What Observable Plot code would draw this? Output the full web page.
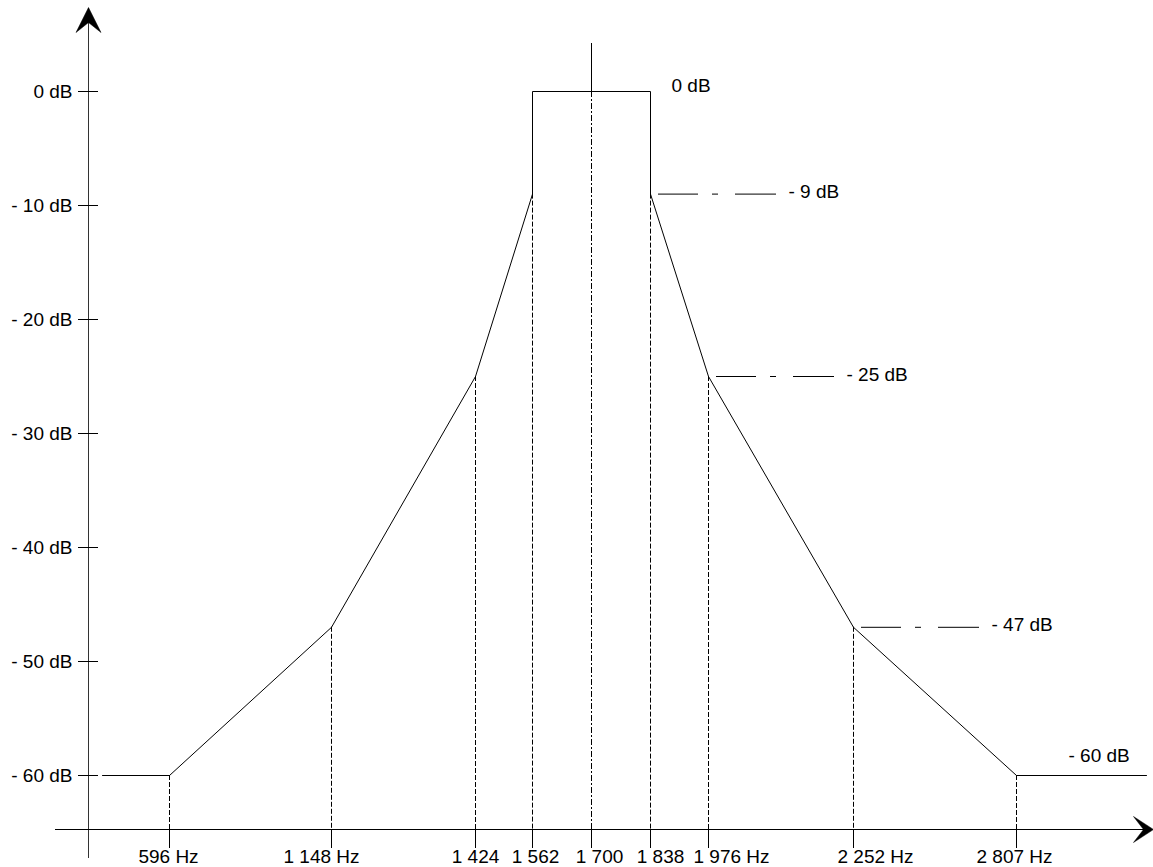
<!DOCTYPE html>
<html>
<head>
<meta charset="utf-8">
<script src="https://cdn.jsdelivr.net/npm/d3@7"></script>
<script src="https://cdn.jsdelivr.net/npm/@observablehq/plot@0.6"></script>
<style>
  html, body { margin: 0; padding: 0; background: #fff; }
  svg { display: block; }
</style>
</head>
<body>
<div id="chart"></div>
<script>
// ---------- DATA ----------
const freqs      = [596, 1148, 1424, 1562, 1700, 1838, 1976, 2252, 2807];
const freqLabels = ["596 Hz", "1 148 Hz", "1 424", "1 562", "1 700", "1 838", "1 976 Hz", "2 252 Hz", "2 807 Hz"];
const markerDb   = [-60, -47, -25, -9, 0, -9, -25, -47, -60];
const maskFreq   = [596, 1148, 1424, 1562, 1562, 1838, 1838, 1976, 2252, 2807];
const maskDb     = [-60, -47, -25, -9, 0, 0, -9, -25, -47, -60];
const dbTicks    = [0, -10, -20, -30, -40, -50, -60];
const limitFreq  = [1838, 1976, 2252];
const limitDb    = [-9, -25, -47];
const limitLabels = ["- 9 dB", "- 25 dB", "- 47 dB"];
const centerFreq = 1700;
const floorDb    = -60;

// ---------- LAYOUT ----------
const W = 1153, H = 867;
const xPixels = [169, 331, 475, 532, 591, 650, 708, 853, 1016]; // schematic (non-linear) frequency placement
const yPixels = [775, 91];
const xLabelShift = [-1, -10, 0, 3, 8, 10, 23, 22, -2];         // horizontal nudge of each frequency label (px)
const FONT = 19;

const xOpts = {type: "linear", domain: freqs, range: xPixels, axis: null};
const yOpts = {type: "linear", domain: [-60, 0], range: yPixels};
// helpers mirroring the Plot scales (piecewise linear), used to convert layout offsets
const xs = d3.scaleLinear().domain(freqs).range(xPixels);
const ys = d3.scaleLinear().domain([-60, 0]).range(yPixels);
const hzAt = px => xs.invert(px);
const dbAt = px => ys.invert(px);
const shift = (f, px) => hzAt(xs(f) + px);

const axisHz = hzAt(88);
const axisDb = dbAt(829);

const maskData = [
  {f: hzAt(102), db: floorDb},
  ...maskFreq.map((f, i) => ({f, db: maskDb[i]})),
  {f: hzAt(1146), db: floorDb}
];
const markers = freqs.map((f, i) => ({f, db: markerDb[i], label: freqLabels[i], nudge: xLabelShift[i]}));
const limits = limitFreq.map((f, i) => ({f, db: limitDb[i], label: limitLabels[i]}));

const upArrow = {
  draw(ctx) {
    ctx.moveTo(0, 0); ctx.lineTo(12.5, 25); ctx.lineTo(0, 15); ctx.lineTo(-12.5, 25); ctx.closePath();
  }
};
const rightArrow = {
  draw(ctx) {
    ctx.moveTo(0, 0); ctx.lineTo(-20, -13); ctx.lineTo(-10, 0); ctx.lineTo(-20, 13); ctx.closePath();
  }
};

const ANN_OFF = 8, ANN_LEN = 118, ANN_GAP = 12;

const chart = Plot.plot({
  width: W,
  height: H,
  marginLeft: 88,
  marginBottom: 38,
  marginTop: 8,
  marginRight: 7,
  x: {...xOpts},
  y: {...yOpts},
  style: {fontFamily: "'Liberation Sans', Arial, sans-serif", fontSize: FONT + "px", color: "black", background: "white"},
  marks: [
    // axes lines
    Plot.ruleX([axisHz], {y1: dbAt(858), y2: dbAt(8), stroke: "#333"}),
    Plot.ruleY([axisDb], {x1: hzAt(55), x2: hzAt(1146), stroke: "black"}),
    Plot.dot([0], {x: () => axisHz, y: () => dbAt(7), symbol: upArrow, fill: "black", stroke: "black", strokeWidth: 0.5}),
    Plot.dot([0], {x: () => hzAt(1153), y: () => axisDb, symbol: rightArrow, fill: "black", stroke: "black", strokeWidth: 0.5}),
    // y axis ticks & labels
    Plot.axisY(dbTicks, {
      anchor: "left", tickSize: 20, dx: 10, tickPadding: 6, fontSize: FONT, label: null,
      tickFormat: d => d === 0 ? "0 dB" : `- ${-d} dB`
    }),
    // x axis ticks (below the axis) & labels
    Plot.ruleX(freqs, {y1: axisDb, y2: dbAt(848), stroke: "black"}),
    Plot.text(markers, {
      x: d => shift(d.f, d.nudge), y: () => axisDb, text: "label",
      lineAnchor: "top", dy: 20, textAnchor: "middle", fontSize: FONT, fill: "black"
    }),
    // drop lines
    Plot.ruleX(markers.filter(d => d.f !== centerFreq), {x: "f", y1: "db", y2: axisDb, strokeDasharray: "5,2", stroke: "black"}),
    Plot.ruleX([centerFreq], {y1: axisDb, y2: 0, strokeDasharray: "6,2,2,2", stroke: "black"}),
    Plot.ruleX([centerFreq], {y1: 0, y2: dbAt(43), stroke: "black"}),
    // mask
    Plot.line(maskData, {x: "f", y: "db", stroke: "black", strokeWidth: 1}),
    // limit annotations
    Plot.ruleY(limits, {
      y: "db",
      x1: d => shift(d.f, ANN_OFF),
      x2: d => shift(d.f, ANN_OFF + ANN_LEN),
      strokeDasharray: "40,14,6,17,41", stroke: "black"
    }),
    Plot.text(limits, {
      x: d => shift(d.f, ANN_OFF + ANN_LEN + ANN_GAP), y: "db", text: "label",
      textAnchor: "start", dy: -2, fontSize: FONT, fill: "black"
    }),
    Plot.text([{f: 1838, db: 0}], {x: "f", y: "db", text: () => "0 dB", dx: 21, dy: -6, textAnchor: "start", fontSize: FONT, fill: "black"}),
    Plot.text([{f: 2807, db: floorDb}], {x: "f", y: "db", text: () => "- 60 dB", dx: 52, dy: -20, textAnchor: "start", fontSize: FONT, fill: "black"})
  ]
});
document.getElementById("chart").appendChild(chart);
</script>
</body>
</html>
